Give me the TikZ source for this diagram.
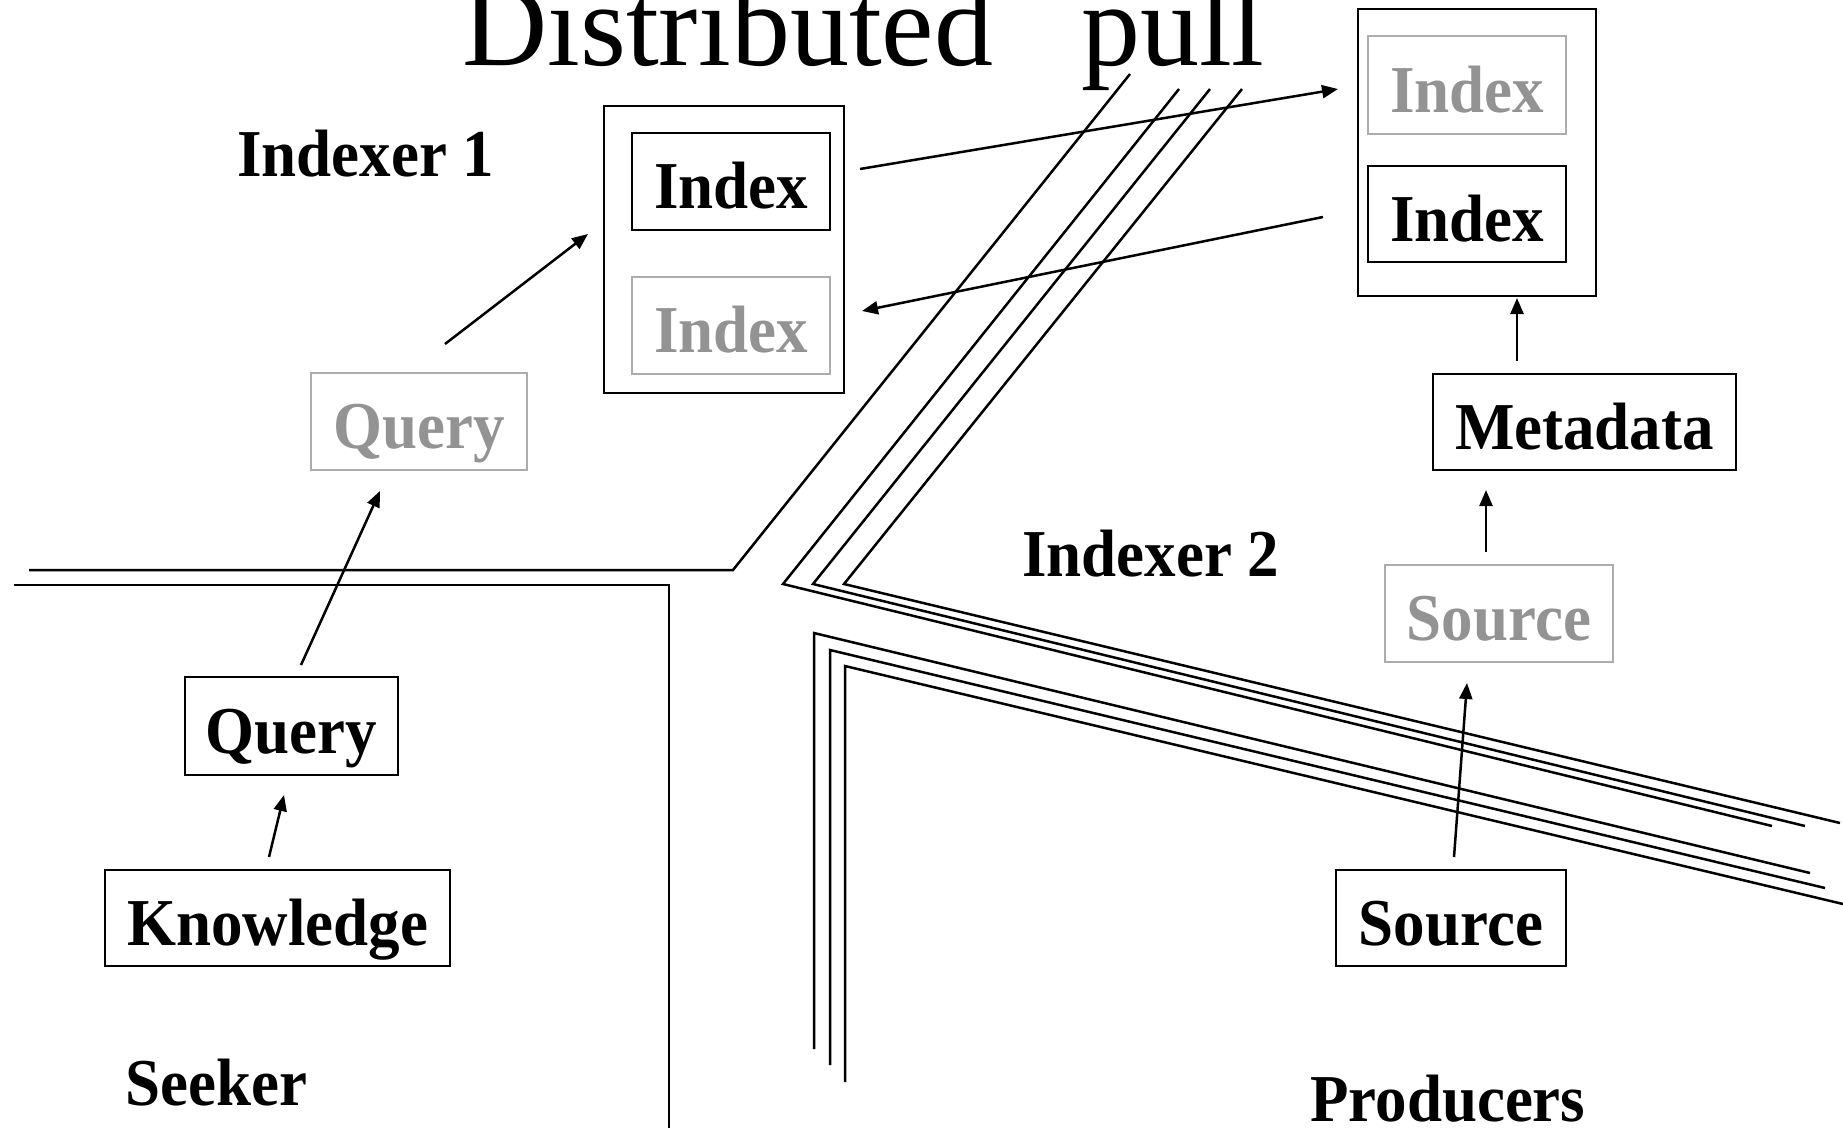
\documentclass[tikz,border=0pt]{standalone}
\usepackage{fontspec}
\setmainfont{Liberation Serif}
\newfontfamily\lblfont{Liberation Serif}[FakeStretch=0.94]
\usetikzlibrary{arrows.meta}
\definecolor{fadeline}{RGB}{172,172,172}
\definecolor{fadetext}{RGB}{147,147,147}
\begin{document}
\begin{tikzpicture}[x=1pt,y=-1pt,
  lbl/.style={font=\lblfont\bfseries\fontsize{67}{67}\selectfont, inner sep=0pt},
  boxed/.style={lbl, draw=black, line width=2.8pt, text height=54pt, text depth=0pt, anchor=center},
  faded/.style={draw=fadeline, text=fadetext},
  wire/.style={line width=2.5pt, line join=miter},
  flow/.style={line width=2.5pt, -{Triangle[length=16pt,width=13pt]}}]
\useasboundingbox (0,0) rectangle (1843,1133);

% title
\node[anchor=base west, inner sep=0pt, font=\fontsize{118}{118}\selectfont] (title) at (462,65) {Distributed\hspace{88pt}pull};

% region labels
\node[lbl, anchor=base west] (lab1) at (237,176) {Indexer 1};
\node[lbl, anchor=base west] (lab2) at (1022,576) {Indexer 2};
\node[lbl, anchor=base west] (lab3) at (125,1105) {Seeker};
\node[lbl, anchor=base west] (lab4) at (1310,1121) {Producers};

% boundaries between the regions
\draw[wire] (29,570) -- (733,570) -- (1130,74);
\draw[wire] (14,585) -- (669,585) -- (669,1128);
\draw[wire] (1179,89) -- (783,584) -- (1772,826);
\draw[wire] (1210,89) -- (813,584) -- (1805,826);
\draw[wire] (1242,89) -- (844,584) -- (1840,823);
\draw[wire] (814,1049) -- (814,633) -- (1810,873);
\draw[wire] (830,1065) -- (830,650) -- (1825,888);
\draw[wire] (845,1082) -- (845,666) -- (1843,904);

% Indexer 1
\node[draw, line width=2.8pt, minimum width=240pt, minimum height=287pt, inner sep=0pt] (ix1) at (724,249.5) {};
\node[boxed, minimum width=198pt, minimum height=97pt] (ix1a) at (731,181.5) {Index};
\node[boxed, faded, minimum width=198pt, minimum height=97pt] (ix1b) at (731,325.5) {Index};

% Indexer 2
\node[draw, line width=2.8pt, minimum width=238pt, minimum height=287pt, inner sep=0pt] (ix2) at (1477,152.5) {};
\node[boxed, faded, minimum width=198pt, minimum height=98pt] (ix2a) at (1467,85) {Index};
\node[boxed, minimum width=198pt, minimum height=96pt] (ix2b) at (1467,214) {Index};
\node[boxed, minimum width=303pt, minimum height=96pt] (meta) at (1584.5,422) {Metadata};

% Seeker
\node[boxed, faded, minimum width=216pt, minimum height=97pt] (qg) at (419,421.5) {Query};
\node[boxed, minimum width=213pt, minimum height=98pt] (qb) at (291.5,726) {Query};
\node[boxed, minimum width=345pt, minimum height=96pt] (know) at (277.5,918) {Knowledge};

% Producers
\node[boxed, faded, minimum width=228pt, minimum height=97pt] (sg) at (1499,613.5) {Source};
\node[boxed, minimum width=230pt, minimum height=96pt] (sb) at (1451,918) {Source};

% arrow end points
\coordinate (k0) at (269,857);  \coordinate (k1) at (284,795);
\coordinate (q0) at (301,665);  \coordinate (q1) at (380,491);
\coordinate (g0) at (445,344);  \coordinate (g1) at (588,234);
\coordinate (i0) at (860,169);  \coordinate (i1) at (1338,89);
\coordinate (j0) at (1323,217); \coordinate (j1) at (862,311);
\coordinate (m0) at (1517,361); \coordinate (m1) at (1517,298);
\coordinate (s0) at (1486,552); \coordinate (s1) at (1486,490);
\coordinate (t0) at (1454,857); \coordinate (t1) at (1467,683);

\draw[flow] (k0) -- (k1);
\draw[flow] (q0) -- (q1);
\draw[flow] (g0) -- (g1);
\draw[flow] (i0) -- (i1);
\draw[flow] (j0) -- (j1);
\draw[flow] (m0) -- (m1);
\draw[flow] (s0) -- (s1);
\draw[flow] (t0) -- (t1);
\end{tikzpicture}
\end{document}
